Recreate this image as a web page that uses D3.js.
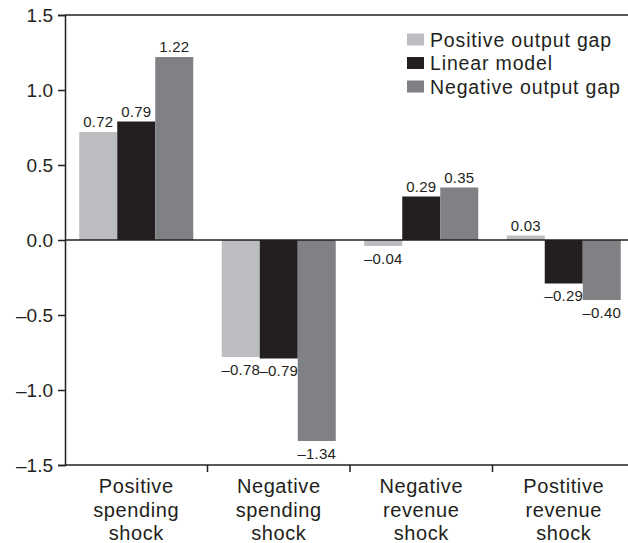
<!DOCTYPE html>
<html>
<head>
<meta charset="utf-8">
<script src="https://cdn.jsdelivr.net/npm/d3@7"></script>
<style>
  html, body { margin: 0; padding: 0; background: #fff; }
  svg { display: block; }
  text { font-family: "Liberation Sans", Arial, Helvetica, sans-serif; fill: #231f20; }
</style>
</head>
<body>
<svg id="chart" width="628" height="543"></svg>
<script>
const categories = [
  ["Positive", "spending", "shock"],
  ["Negative", "spending", "shock"],
  ["Negative", "revenue", "shock"],
  ["Postitive", "revenue", "shock"]
];
const seriesNames = ["Positive output gap", "Linear model", "Negative output gap"];
const seriesColors = ["#bcbdc0", "#231f20", "#808184"];
const positiveGap = [0.72, -0.78, -0.04, 0.03];
const linearModel = [0.79, -0.79, 0.29, -0.29];
const negativeGap = [1.22, -1.34, 0.35, -0.40];
const yTicks = [-1.5, -1.0, -0.5, 0.0, 0.5, 1.0, 1.5];

(function () {
const series = [positiveGap, linearModel, negativeGap];
const svg = d3.select("#chart");
const mLeft = 65, mTop = 15, mBottom = 465;
const catKeys = categories.map((c, i) => i);

const x = d3.scaleBand().domain(catKeys).range([mLeft, mLeft + 4 * 142.5]).padding(0);
const xs = d3.scaleBand().domain([0, 1, 2]).range([14.25, 142.5 - 14.25]).padding(0);
const y = d3.scaleLinear().domain([-1.5, 1.5]).range([mBottom, mTop]);

const fmt = v => (v < 0 ? "\u2013" : "") + Math.abs(v).toFixed(2);
const fmtTick = v => (v < 0 ? "\u2013" : "") + Math.abs(v).toFixed(1);

// bars
series.forEach((vals, si) => {
  const g = svg.append("g");
  g.selectAll("rect").data(vals).join("rect")
    .attr("x", (d, i) => x(i) + xs(si))
    .attr("width", xs.bandwidth())
    .attr("y", d => y(Math.max(0, d)))
    .attr("height", d => Math.abs(y(d) - y(0)))
    .attr("fill", seriesColors[si]);
  g.selectAll("text").data(vals).join("text")
    .attr("x", (d, i) => x(i) + xs(si) + xs.bandwidth() / 2)
    .attr("y", d => d >= 0 ? y(d) - 5 : y(d) + 17.5)
    .attr("text-anchor", "middle")
    .attr("font-size", 15)
    .attr("letter-spacing", 0.2)
    .text(d => fmt(d));
});

// zero line and top line
svg.append("line").attr("x1", mLeft).attr("x2", 628).attr("y1", y(0)).attr("y2", y(0))
  .attr("stroke", "#231f20").attr("stroke-width", 1.5);
svg.append("line").attr("x1", mLeft).attr("x2", 628).attr("y1", y(1.5)).attr("y2", y(1.5))
  .attr("stroke", "#231f20").attr("stroke-width", 1.5);

// y axis
const yAxis = svg.append("g").attr("transform", `translate(${mLeft},0)`)
  .call(d3.axisLeft(y).tickValues(yTicks).tickFormat(fmtTick).tickSize(7).tickPadding(5));
yAxis.select(".domain").attr("stroke", "#231f20").attr("stroke-width", 1.5);
yAxis.selectAll(".tick line").attr("stroke", "#231f20").attr("stroke-width", 1.5);
yAxis.selectAll(".tick text").attr("font-size", 19)
  .attr("font-family", "'Liberation Sans', Arial, sans-serif").attr("fill", "#231f20");

// x axis line
svg.append("line").attr("x1", mLeft).attr("x2", 628).attr("y1", mBottom).attr("y2", mBottom)
  .attr("stroke", "#231f20").attr("stroke-width", 1.5);
// boundary ticks
svg.append("g").selectAll("line").data(catKeys.slice(0, 3)).join("line")
  .attr("x1", d => x(d) + x.bandwidth()).attr("x2", d => x(d) + x.bandwidth())
  .attr("y1", mBottom).attr("y2", mBottom + 7)
  .attr("stroke", "#231f20").attr("stroke-width", 1.5);

// category labels
const cl = svg.append("g").selectAll("text").data(categories).join("text")
  .attr("x", (d, i) => x(i) + x.bandwidth() / 2)
  .attr("y", 493)
  .attr("text-anchor", "middle")
  .attr("font-size", 20)
  .attr("letter-spacing", 0.6);
cl.selectAll("tspan").data(d => d).join("tspan")
  .attr("x", function () { return d3.select(this.parentNode).attr("x"); })
  .attr("dy", (d, i) => i === 0 ? 0 : 23.5)
  .text(d => d);

// legend
const lg = svg.append("g").selectAll("g").data(seriesNames).join("g")
  .attr("transform", (d, i) => `translate(407, ${33.5 + i * 23.5})`);
lg.append("rect").attr("width", 17).attr("height", 12).attr("y", 0)
  .attr("fill", (d, i) => seriesColors[i]);
lg.append("text").attr("x", 23).attr("y", 13).attr("font-size", 19.5)
  .attr("letter-spacing", 0.85).text(d => d);
})();
</script>
</body>
</html>
